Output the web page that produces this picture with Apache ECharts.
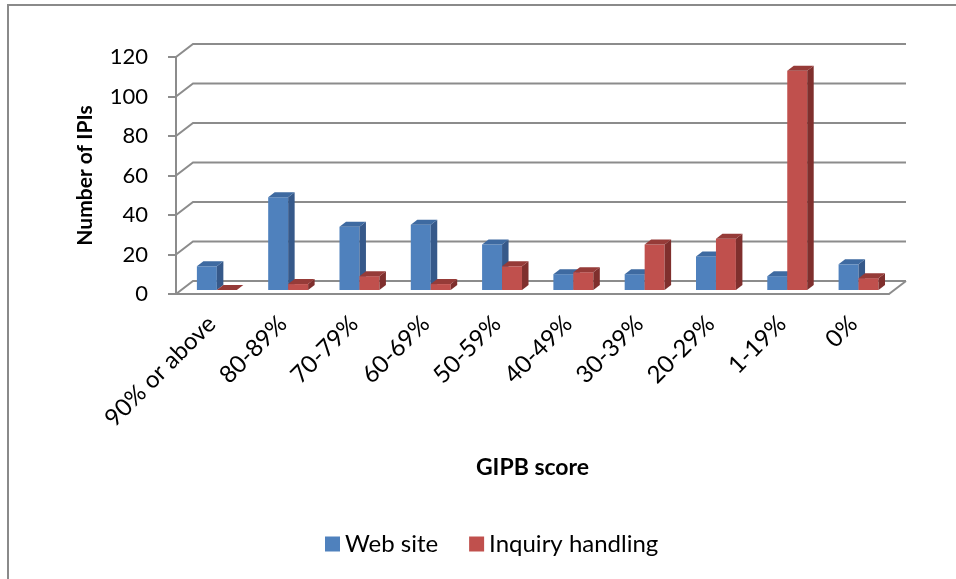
<!DOCTYPE html>
<html>
<head>
<meta charset="utf-8">
<script src="https://cdn.jsdelivr.net/npm/echarts@6/dist/echarts.min.js"></script>
<style>
html,body{margin:0;padding:0;background:#fff;}
#chart{width:956px;height:579px;}
</style>
</head>
<body>
<div id="chart"></div>
<script>
var categories = ['90% or above', '80-89%', '70-79%', '60-69%', '50-59%', '40-49%', '30-39%', '20-29%', '1-19%', '0%'];
var webSite = [12, 47, 32, 33, 23, 8, 8, 17, 7, 13];
var inquiryHandling = [0, 3, 7, 3, 12, 9, 23, 26, 111, 6];
var yTicks = [0, 20, 40, 60, 80, 100, 120];

var FONT = 'Lato';
var WALL_DX = 17, WALL_DY = -13;      // depth of the 3D box
var BAR_FX = 5.2, BAR_FY = -4;        // bar front face offset into depth
var BAR_DX = 6.5, BAR_DY = -5;        // bar depth
var GRID_COLOR = '#8c8c8c';

var colors = [
  {front: '#4F81BD', side: '#36598A', top: '#3E6AA1'},
  {front: '#C0504D', side: '#7F2F2D', top: '#963B38'}
];

function barRenderer(s) {
  return function (params, api) {
    var i = api.value(0), v = api.value(1);
    var c = api.coord([i, v]);
    var b = api.coord([i, 0]);
    var bw = api.size([1, 0])[0] * 0.28;
    var xl = c[0] + (s === 0 ? -bw : 0) + BAR_FX;
    var xr = xl + bw;
    var yt = c[1] + BAR_FY;
    var yb = b[1] + BAR_FY;
    var col = colors[s];
    return {
      type: 'group',
      children: [
        {type: 'polygon', shape: {points: [[xl, yb], [xr, yb], [xr, yt], [xl, yt]]}, style: {fill: col.front}},
        {type: 'polygon', shape: {points: [[xr, yb], [xr + BAR_DX, yb + BAR_DY], [xr + BAR_DX, yt + BAR_DY], [xr, yt]]}, style: {fill: col.side}},
        {type: 'polygon', shape: {points: [[xl, yt], [xr, yt], [xr + BAR_DX, yt + BAR_DY], [xl + BAR_DX, yt + BAR_DY]]}, style: {fill: col.top}}
      ]
    };
  };
}

function gridRenderer(params, api) {
  var v = api.value(1);
  var p = api.coord([0, v]);
  var half = api.size([1, 0])[0] / 2;
  var xL = p[0] - half;
  var xR = api.coord([categories.length - 1, v])[0] + half;
  var y = p[1];
  var children = [
    {type: 'polyline', shape: {points: [[xL, y], [xL + WALL_DX, y + WALL_DY], [xR + WALL_DX, y + WALL_DY]]},
     style: {stroke: GRID_COLOR, lineWidth: 2, fill: null}}
  ];
  if (v === 0) {
    children.push({type: 'line', shape: {x1: xR, y1: y, x2: xR + WALL_DX, y2: y + WALL_DY},
      style: {stroke: GRID_COLOR, lineWidth: 2}});
  }
  return {type: 'group', children: children};
}

var chart = echarts.init(document.getElementById('chart'), null, {renderer: 'canvas'});
chart.setOption({
  backgroundColor: '#fff',
  animation: false,
  graphic: [{
    type: 'rect', shape: {x: 8, y: 5, width: 1200, height: 1000},
    style: {fill: null, stroke: '#8a8a8a', lineWidth: 2}, z: -10
  }],
  grid: {left: 176, right: 67, top: 57, bottom: 285},
  legend: {
    data: ['Web site', 'Inquiry handling'],
    left: 320, top: 527,
    icon: 'rect', itemWidth: 15, itemHeight: 15, itemGap: 31,
    textStyle: {fontFamily: FONT, fontSize: 24, color: '#000'}
  },
  xAxis: {
    type: 'category',
    data: categories,
    name: 'GIPB score',
    nameLocation: 'middle',
    nameGap: 162,
    nameTextStyle: {fontFamily: FONT, fontSize: 23, fontWeight: 'bold', color: '#000'},
    axisLine: {lineStyle: {color: GRID_COLOR, width: 2}},
    axisTick: {length: 8, lineStyle: {color: GRID_COLOR, width: 2}},
    axisLabel: {rotate: 45, margin: 26, fontFamily: FONT, fontSize: 24, color: '#000', interval: 0}
  },
  yAxis: {
    type: 'value',
    min: 0, max: 120, interval: 20,
    name: 'Number of IPIs',
    nameLocation: 'middle',
    nameGap: 80,
    nameRotate: 90,
    nameTextStyle: {fontFamily: FONT, fontSize: 21, fontWeight: 'bold', color: '#000'},
    axisLine: {show: true, lineStyle: {color: GRID_COLOR, width: 2}},
    axisTick: {show: true, length: 8, lineStyle: {color: GRID_COLOR, width: 2}},
    axisLabel: {margin: 28, fontFamily: FONT, fontSize: 22, color: '#000'},
    splitLine: {show: false}
  },
  series: [
    {
      name: 'walls', type: 'custom', renderItem: gridRenderer, clip: false, z: 1,
      data: yTicks.map(function (t) { return [0, t]; }),
      encode: {x: 0, y: 1}, silent: true
    },
    {
      name: 'Web site', type: 'custom', renderItem: barRenderer(0), clip: false, z: 3,
      itemStyle: {color: colors[0].front},
      data: webSite.map(function (v, i) { return [i, v]; }),
      encode: {x: 0, y: 1}
    },
    {
      name: 'Inquiry handling', type: 'custom', renderItem: barRenderer(1), clip: false, z: 4,
      itemStyle: {color: colors[1].front},
      data: inquiryHandling.map(function (v, i) { return [i, v]; }),
      encode: {x: 0, y: 1}
    }
  ]
});
</script>
</body>
</html>
